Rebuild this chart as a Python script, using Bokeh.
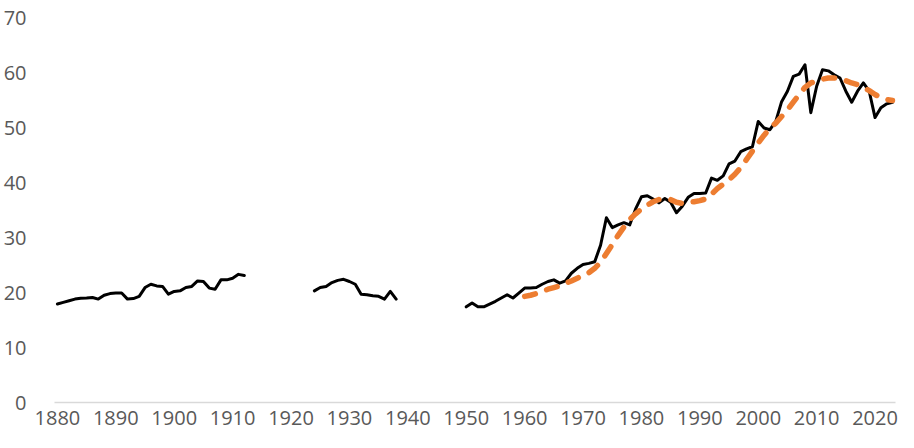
import numpy as np
from bokeh.plotting import figure
from bokeh.models import Range1d, FixedTicker, ColumnDataSource
from bokeh.embed import file_html
from bokeh.resources import INLINE

# ---- data -------------------------------------------------------------
years_a = list(range(1880, 1913))
values_a = [17.9, 18.2, 18.5, 18.8, 18.95, 19.0, 19.1, 18.8, 19.5, 19.8,
            19.9, 19.9, 18.8, 18.9, 19.3, 20.9, 21.5, 21.2, 21.1, 19.7,
            20.2, 20.3, 20.9, 21.1, 22.1, 22.0, 20.8, 20.6, 22.3, 22.3,
            22.6, 23.3, 23.1]

years_b = list(range(1924, 1939))
values_b = [20.3, 20.9, 21.1, 21.8, 22.2, 22.4, 22.0, 21.5, 19.7, 19.6,
            19.4, 19.3, 18.8, 20.2, 18.8]

years_c = list(range(1950, 2024))
values_c = [17.4, 18.1, 17.4, 17.4, 17.9, 18.4, 19.0, 19.6, 19.0, 19.9,
            20.8, 20.8, 20.9, 21.5, 22.0, 22.3, 21.7, 22.1, 23.5, 24.4,
            25.1, 25.3, 25.6, 28.6, 33.6, 31.8, 32.3, 32.7, 32.3, 35.2,
            37.4, 37.6, 37.0, 36.3, 37.1, 36.4, 34.5, 35.7, 37.3, 38.0,
            38.0, 38.1, 40.8, 40.4, 41.2, 43.4, 43.9, 45.6, 46.1, 46.5,
            51.1, 49.9, 49.6, 51.1, 54.7, 56.6, 59.3, 59.7, 61.4, 52.7,
            57.5, 60.5, 60.3, 59.6, 59.0, 56.6, 54.6, 56.6, 58.1, 56.6,
            51.8, 53.6, 54.3, 54.6]

trend_years = list(range(1960, 2024))
trend_values = [19.3, 19.5, 19.8, 20.2, 20.6, 20.9, 21.2, 21.7, 22.1, 22.6,
                23.1, 23.6, 24.4, 25.5, 27.1, 28.7, 30.4, 31.9, 33.3, 34.3,
                35.2, 35.9, 36.5, 36.9, 37.0, 36.9, 36.4, 36.2, 36.4, 36.5,
                36.7, 37.0, 37.9, 38.9, 39.7, 40.5, 41.5, 42.7, 44.2, 45.7,
                47.2, 48.6, 49.9, 50.8, 52.0, 53.2, 54.6, 56.0, 57.3, 58.1,
                58.4, 58.8, 59.0, 59.0, 58.8, 58.5, 58.1, 57.8, 57.3, 56.7,
                56.0, 55.4, 55.1, 54.9]

x_ticks = [1880, 1890, 1900, 1910, 1920, 1930, 1940, 1950, 1960, 1970,
           1980, 1990, 2000, 2010, 2020]
y_ticks = [0, 10, 20, 30, 40, 50, 60, 70]

# ---- combine black series with gaps -------------------------------------
xs = years_a + [np.nan] + years_b + [np.nan] + years_c
ys = values_a + [np.nan] + values_b + [np.nan] + values_c
src = ColumnDataSource(dict(x=xs, y=ys))
trend = ColumnDataSource(dict(x=trend_years, y=trend_values))

p = figure(width=898, height=432, output_backend="svg", toolbar_location=None,
           x_range=Range1d(1879.5, 2023.5), y_range=Range1d(0, 70),
           min_border_left=54, min_border_right=3, min_border_top=17,
           min_border_bottom=30)
p.outline_line_color = None
p.background_fill_color = "white"
p.border_fill_color = "white"
p.xgrid.visible = False
p.ygrid.visible = False

p.line("x", "y", source=src, line_color="black", line_width=3,
       line_join="round", line_cap="round")
p.line("x", "y", source=trend, line_color="#ED7D31", line_width=5.5,
       line_dash="11 12", line_cap="round", line_join="round")

font = "Open Sans"
grey = "#595959"

p.xaxis.ticker = FixedTicker(ticks=x_ticks)
p.xaxis.axis_line_color = "#D9D9D9"
p.xaxis.axis_line_width = 1.5
p.xaxis.major_tick_line_color = None
p.xaxis.minor_tick_line_color = None
p.xaxis.major_label_text_font = font
p.xaxis.major_label_text_font_size = "20px"
p.xaxis.major_label_text_color = grey
p.xaxis.major_label_standoff = 2

p.yaxis.ticker = FixedTicker(ticks=y_ticks)
p.yaxis.axis_line_color = None
p.yaxis.major_tick_line_color = None
p.yaxis.minor_tick_line_color = None
p.yaxis.major_label_text_font = font
p.yaxis.major_label_text_font_size = "20px"
p.yaxis.major_label_text_color = grey
p.yaxis.major_label_standoff = 22

open("out.html", "w").write(file_html(p, INLINE))
